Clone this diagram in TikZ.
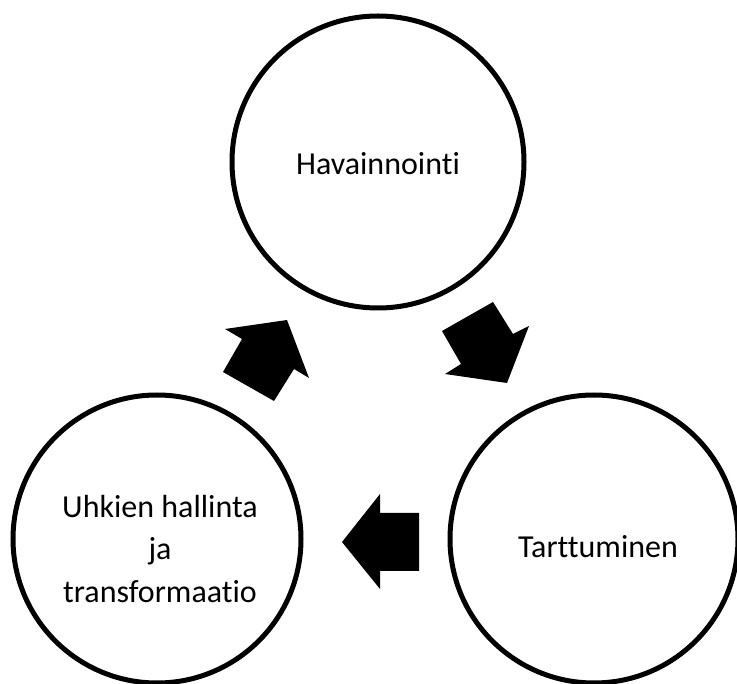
\documentclass[tikz,border=0pt]{standalone}
\usepackage{fontspec}
\setmainfont{Carlito}[Ligatures=NoCommon,RawFeature=-liga]
\begin{document}
\begin{tikzpicture}[x=1pt,y=-1pt,
  stage/.style={circle,draw=black,line width=5pt,minimum size=288pt,inner sep=0pt},
  stagetext/.style={align=center,inner sep=0pt,font=\fontsize{32}{42.5}\selectfont},
  blockarrow/.style={fill=black,draw=none}]
\useasboundingbox (0,0) rectangle (737,684);
\node[stage,minimum size=292pt] (top) at (378,162) {};
\node[stage] (left) at (157,539) {};
\node[stage] (right) at (594,539) {};
\node[stagetext] (toptext) at ([yshift=-2pt]top.center) {Havainnointi};
\node[stagetext] (lefttext) at ([xshift=3pt,yshift=-10pt]left.center) {Uhkien hallinta\\ja\\transformaatio};
\node[stagetext] (righttext) at ([xshift=4pt,yshift=-8pt]right.center) {Tarttuminen};
% block arrows
\fill[blockarrow] (287,320) -- (225,329) -- (242,339) -- (223,372) -- (274,401) -- (294,369) -- (309,378) -- cycle;
\fill[blockarrow] (493,302) -- (442,331) -- (461,364) -- (445,374) -- (507,383) -- (529,326) -- (513,334) -- cycle;
\fill[blockarrow] (342,542) -- (380,494) -- (380,513) -- (419,513) -- (419,571) -- (380,571) -- (380,589) -- cycle;
\end{tikzpicture}
\end{document}
